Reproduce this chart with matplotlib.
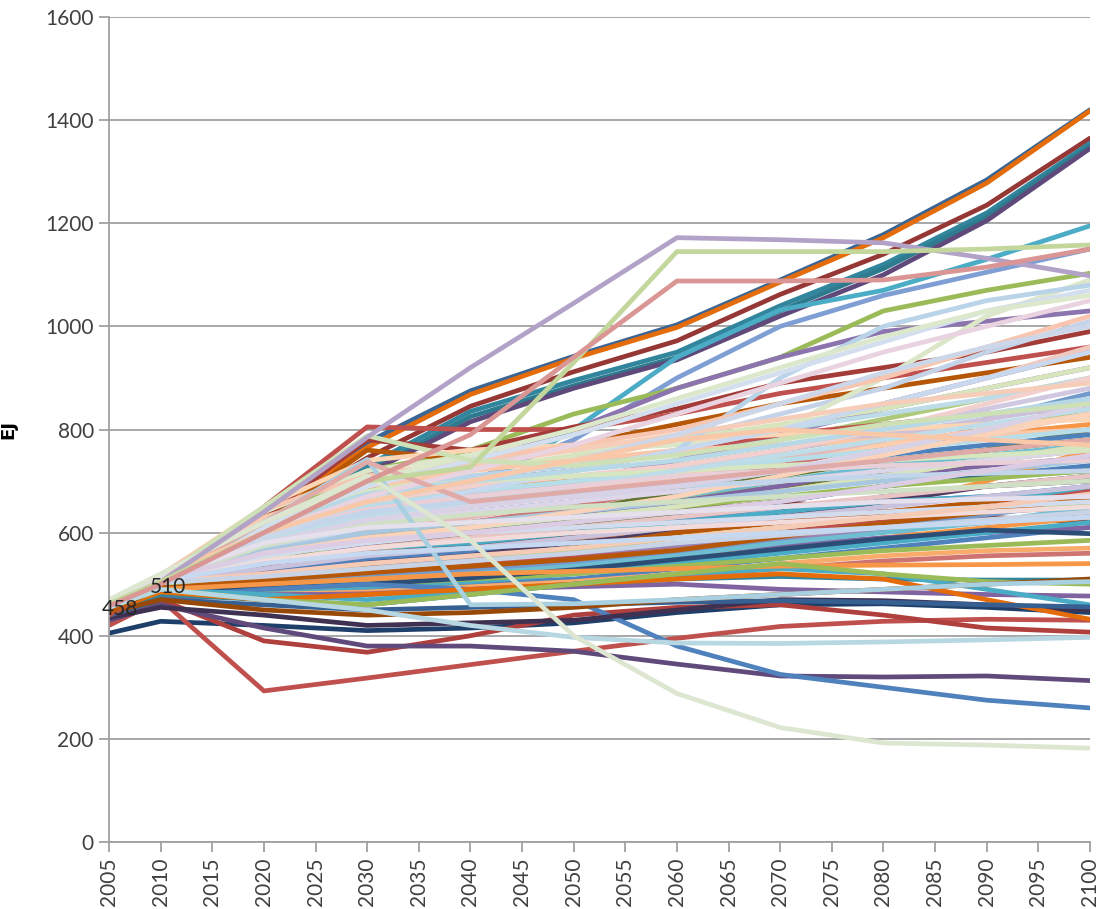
import numpy as np
import matplotlib.pyplot as plt

# categories on the x axis (Excel style category axis)
categories = [str(y) for y in range(2005, 2101, 5)]
# years that actually carry data in every run
years = [2005, 2010, 2020, 2030, 2040, 2050, 2060, 2070, 2080, 2090, 2100]

# runs that climb highest
high_runs = [
    [468, 510, 640, 775, 875, 942, 1003, 1090, 1178, 1284, 1420],
    [466, 508, 635, 765, 868, 938, 998, 1086, 1172, 1278, 1418],
    [462, 505, 625, 745, 845, 912, 972, 1062, 1140, 1235, 1365],
    [460, 503, 615, 730, 835, 895, 950, 1040, 1120, 1220, 1355],
    [458, 500, 610, 720, 825, 885, 940, 1030, 1112, 1212, 1350],
    [455, 498, 605, 715, 815, 880, 935, 1020, 1100, 1205, 1345],
    [458, 500, 560, 620, 680, 800, 940, 1032, 1070, 1130, 1195],
    [456, 500, 570, 640, 700, 780, 900, 1000, 1060, 1105, 1150],
    [456, 503, 620, 720, 760, 830, 880, 940, 1030, 1070, 1103],
    [455, 500, 590, 680, 740, 800, 880, 940, 990, 1010, 1030],
    [440, 500, 650, 805, 800, 800, 830, 870, 900, 930, 960],
    [450, 500, 630, 780, 760, 805, 840, 890, 920, 950, 990],
    [445, 495, 620, 760, 740, 770, 810, 850, 880, 910, 940],
]
high_colors = ['#3B6593', '#E46C0A', '#953735', '#31859C', '#2E7A8E', '#5F497A',
               '#4BACC6', '#7F9FD4', '#9BBB59', '#8C75AE', '#C0504D', '#A33B38',
               '#B65708']

# runs that stay low or fall
low_runs = [
    [405, 428, 420, 410, 415, 425, 445, 460, 462, 455, 445],
    [420, 470, 293, 318, 344, 370, 395, 418, 428, 432, 430],
    [430, 470, 390, 368, 400, 440, 455, 460, 440, 415, 407],
    [430, 460, 415, 380, 380, 370, 345, 322, 320, 322, 313],
    [440, 475, 490, 500, 490, 470, 380, 325, 300, 275, 260],
    [435, 455, 440, 420, 425, 430, 450, 470, 468, 460, 450],
    [440, 470, 480, 480, 490, 495, 500, 490, 485, 480, 477],
    [445, 480, 470, 460, 480, 500, 510, 515, 510, 508, 508],
    [450, 490, 480, 470, 485, 500, 520, 530, 520, 490, 460],
    [448, 485, 470, 480, 490, 500, 510, 520, 510, 470, 432],
    [455, 490, 500, 510, 520, 525, 530, 535, 537, 538, 540],
    [452, 490, 470, 460, 480, 500, 520, 540, 520, 505, 500],
    [440, 470, 460, 450, 455, 460, 465, 468, 465, 460, 456],
    [445, 470, 450, 440, 445, 455, 470, 480, 490, 500, 510],
]
low_colors = ['#1F3F6B', '#C0504D', '#B0403D', '#604A7B', '#4F81BD', '#3F3151',
              '#8064A2', '#31859C', '#4BACC6', '#E46C0A', '#F79646', '#9BBB59',
              '#376092', '#984807']

# lower part of the main band
lower_mid_runs = [
    [445, 485, 480, 490, 500, 510, 530, 550, 570, 590, 610],
    [448, 490, 495, 505, 515, 530, 550, 570, 590, 610, 630],
    [450, 492, 500, 520, 530, 545, 560, 575, 590, 600, 610],
    [446, 488, 485, 495, 505, 520, 540, 560, 580, 600, 620],
    [452, 495, 510, 525, 540, 555, 575, 600, 625, 650, 680],
    [449, 490, 490, 500, 510, 520, 535, 550, 565, 575, 585],
    [451, 493, 505, 515, 525, 540, 560, 585, 610, 635, 660],
    [447, 487, 480, 485, 495, 505, 520, 540, 555, 565, 570],
    [453, 497, 520, 540, 550, 560, 575, 590, 605, 620, 640],
    [450, 491, 498, 510, 520, 535, 555, 580, 600, 620, 650],
    [444, 484, 478, 482, 490, 500, 515, 530, 545, 555, 560],
    [452, 494, 515, 530, 545, 565, 590, 610, 630, 645, 655],
    [448, 489, 492, 500, 512, 528, 548, 568, 588, 605, 598],
    [451, 492, 508, 522, 535, 548, 566, 592, 618, 640, 668],
]
lower_mid_colors = ['#4F81BD', '#F79646', '#8064A2', '#4BACC6', '#C0504D', '#9BBB59',
                    '#729ACA', '#F9AB6B', '#9983B5', '#6FBDD1', '#CD7371', '#AFC97A',
                    '#2C4D75', '#B65708']

# middle band, strong colours
mid_runs = [
    [450, 490, 530, 560, 580, 600, 630, 660, 690, 710, 730],
    [452, 495, 540, 575, 590, 615, 640, 680, 720, 760, 800],
    [455, 500, 560, 600, 620, 640, 665, 690, 720, 740, 760],
    [450, 495, 545, 580, 600, 630, 660, 690, 710, 730, 745],
    [448, 490, 520, 540, 570, 600, 640, 680, 710, 740, 770],
    [454, 498, 535, 560, 570, 585, 600, 620, 650, 700, 760],
    [446, 488, 515, 530, 545, 570, 610, 640, 670, 690, 710],
    [450, 490, 520, 540, 560, 600, 640, 660, 640, 630, 620],
    [452, 494, 540, 570, 590, 610, 640, 680, 720, 760, 800],
    [449, 492, 525, 548, 560, 580, 600, 630, 660, 690, 700],
    [451, 496, 540, 565, 575, 600, 630, 660, 690, 710, 720],
    [447, 490, 515, 535, 550, 570, 600, 620, 640, 660, 680],
    [455, 500, 560, 610, 640, 660, 700, 740, 780, 820, 870],
    [453, 498, 555, 600, 620, 650, 690, 730, 770, 800, 830],
    [456, 502, 580, 640, 680, 700, 740, 780, 820, 860, 900],
    [454, 500, 570, 630, 670, 700, 740, 790, 840, 880, 920],
    [452, 497, 550, 590, 610, 640, 670, 700, 730, 750, 770],
    [450, 495, 530, 565, 590, 620, 650, 680, 710, 740, 770],
    [451, 493, 525, 550, 565, 590, 625, 650, 660, 670, 690],
    [456, 500, 590, 660, 690, 720, 760, 790, 810, 830, 840],
    [452, 495, 545, 585, 600, 620, 650, 670, 690, 705, 720],
    [455, 500, 600, 680, 700, 720, 760, 800, 850, 900, 950],
    [450, 494, 535, 570, 580, 600, 620, 640, 660, 670, 680],
    [458, 505, 620, 735, 690, 700, 720, 750, 770, 790, 810],
    [456, 503, 600, 700, 680, 700, 730, 760, 790, 810, 830],
    [453, 496, 560, 620, 640, 660, 690, 720, 750, 770, 790],
    [449, 492, 530, 560, 570, 590, 610, 620, 630, 640, 650],
    [451, 494, 545, 590, 610, 640, 680, 710, 740, 760, 780],
]
mid_colors = ['#4F81BD', '#C0504D', '#9BBB59', '#8064A2', '#4BACC6', '#F79646',
              '#2C4D75', '#772C2A', '#5F7530', '#4D3B62', '#276A7C', '#B65708',
              '#729ACA', '#CD7371', '#AFC97A', '#9983B5', '#6FBDD1', '#F9AB6B',
              '#4F81BD', '#C0504D', '#9BBB59', '#8064A2', '#4BACC6', '#F79646',
              '#9BBB59', '#4F81BD', '#C0504D', '#5F7530']

# pale runs drawn on top
pale_runs = [
    [462, 512, 600, 660, 700, 740, 780, 830, 880, 950, 1010],
    [460, 510, 590, 650, 690, 720, 760, 800, 850, 900, 960],
    [465, 515, 610, 680, 720, 750, 780, 810, 840, 880, 920],
    [458, 508, 580, 630, 660, 690, 720, 760, 800, 840, 880],
    [463, 514, 620, 700, 740, 760, 780, 800, 830, 860, 900],
    [460, 510, 575, 620, 650, 680, 710, 740, 770, 800, 830],
    [466, 518, 640, 720, 750, 760, 770, 800, 900, 1020, 1090],
    [462, 512, 600, 670, 710, 730, 760, 900, 1000, 1050, 1080],
    [458, 506, 560, 600, 630, 660, 700, 740, 780, 820, 860],
    [461, 511, 590, 640, 670, 700, 730, 760, 790, 820, 850],
    [464, 516, 630, 690, 720, 740, 760, 770, 780, 790, 800],
    [459, 508, 570, 610, 640, 660, 690, 720, 750, 790, 830],
    [463, 513, 610, 660, 690, 710, 730, 760, 800, 850, 900],
    [457, 505, 550, 590, 610, 630, 650, 680, 710, 740, 770],
    [462, 512, 600, 650, 680, 700, 720, 740, 760, 780, 800],
    [460, 509, 580, 620, 640, 660, 680, 700, 720, 740, 760],
    [465, 517, 650, 740, 760, 770, 780, 790, 800, 810, 820],
    [459, 507, 565, 600, 620, 640, 660, 680, 700, 720, 740],
    [456, 504, 540, 570, 590, 610, 630, 650, 670, 690, 710],
    [461, 510, 590, 640, 680, 720, 760, 800, 850, 900, 950],
    [463, 513, 620, 680, 700, 710, 720, 730, 740, 750, 760],
    [458, 506, 560, 590, 610, 640, 670, 710, 750, 790, 830],
    [455, 503, 530, 555, 570, 590, 610, 630, 650, 670, 690],
    [460, 510, 585, 630, 660, 690, 720, 750, 780, 810, 840],
    [464, 515, 625, 690, 730, 760, 790, 820, 850, 870, 890],
    [457, 505, 555, 580, 600, 610, 620, 630, 640, 650, 660],
    [462, 511, 600, 645, 670, 690, 710, 720, 730, 735, 740],
    [459, 508, 575, 615, 635, 650, 660, 670, 680, 690, 700],
    [466, 518, 645, 710, 740, 770, 800, 850, 900, 960, 1020],
    [461, 511, 595, 640, 660, 675, 690, 700, 710, 715, 720],
    [458, 507, 560, 585, 600, 620, 640, 660, 690, 720, 750],
    [463, 514, 615, 675, 700, 720, 740, 770, 800, 830, 860],
    [456, 504, 545, 570, 585, 600, 610, 620, 630, 640, 650],
    [460, 509, 580, 625, 650, 670, 690, 720, 760, 800, 850],
    [463, 514, 610, 690, 740, 790, 850, 910, 970, 1030, 1070],
    [461, 512, 600, 670, 720, 770, 830, 890, 950, 1000, 1050],
    [464, 516, 620, 700, 750, 800, 860, 920, 980, 1030, 1060],
    [460, 510, 590, 660, 700, 740, 790, 850, 910, 960, 1000],
    [457, 505, 520, 540, 555, 570, 590, 610, 630, 650, 675],
    [455, 503, 515, 530, 545, 560, 580, 595, 610, 625, 640],
    [455, 505, 620, 742, 460, 462, 470, 480, 490, 500, 505],
    [455, 490, 470, 450, 420, 397, 386, 385, 388, 392, 397],
    [462, 512, 650, 788, 740, 730, 750, 780, 810, 830, 850],
    [458, 508, 620, 737, 660, 680, 700, 720, 740, 760, 780],
    [464, 516, 600, 660, 700, 740, 780, 800, 790, 780, 770],
    [457, 506, 540, 560, 570, 580, 590, 600, 610, 620, 630],
    [461, 512, 580, 610, 620, 630, 640, 650, 660, 665, 670],
    [470, 520, 620, 710, 585, 400, 288, 222, 192, 188, 182],
    [460, 505, 640, 785, 920, 1045, 1172, 1168, 1162, 1132, 1098],
    [462, 505, 600, 700, 727, 930, 1145, 1145, 1145, 1150, 1158],
    [458, 500, 600, 700, 790, 940, 1088, 1088, 1090, 1115, 1150],
]
pale_colors = ['#C5D3E8', '#F0C8C0', '#D8E4BC', '#D0C8E0', '#BEDCE8', '#FBCFB0',
               '#DCE6C8', '#B9D4E8', '#E6B9B8', '#CCC1DA', '#FAC8A8', '#C6D9F1',
               '#F2D0CE', '#D7E4BD', '#B7DEE8', '#DDD5E8', '#FCD5B5', '#A9C8E0',
               '#E8C4C4', '#C8D8EE', '#D5E6C0', '#FBD3BA', '#C9C2DD', '#BFDDE8',
               '#F5CDB8', '#D2DCEC', '#E8CFD8', '#CFE0C4', '#F8C6B0', '#C3D5EA',
               '#DCCDE4', '#B7D8E6', '#F2DCDB', '#D9D2E6', '#D3DEEE', '#E9D3E0',
               '#DCE8CC', '#CCD7EA', '#F6CBB6', '#C8D3E6',
               '#A9D0E0', '#B7D7E3', '#CDE0B6', '#DFAAA8', '#F9C8A8', '#C6D9F1',
               '#E5E0EC', '#DCE6D0', '#B3A2C7', '#C3D69B', '#D99694']

xpos = [(y - 2005) / 5 for y in years]

fig, ax = plt.subplots(figsize=(11.06, 9.09), dpi=100)
fig.subplots_adjust(left=0.0986, right=0.9855, top=0.9813, bottom=0.0737)

lw = 3.4
for runs, cols in [(mid_runs, mid_colors), (lower_mid_runs, lower_mid_colors),
                   (low_runs, low_colors), (high_runs, high_colors),
                   (pale_runs, pale_colors)]:
    for vals, c in zip(runs, cols):
        ax.plot(xpos, vals, color=c, lw=lw, solid_capstyle='round',
                solid_joinstyle='round')

# data labels on the historical points
ax.annotate('458', (0, 458), xytext=(8, -2), textcoords='offset points',
            ha='center', va='center', fontsize=15, color='#262626', family='Lato')
ax.annotate('510', (1, 510), xytext=(5, -6), textcoords='offset points',
            ha='center', va='center', fontsize=15, color='#262626', family='Lato')

ax.set_xlim(0, len(categories) - 1)
ax.set_ylim(0, 1600)
ax.set_xticks(range(len(categories)))
ax.set_xticklabels(categories, rotation=90, fontsize=15, family='Lato', color='#404040')
ax.set_yticks(range(0, 1601, 200))
ax.set_yticklabels([str(v) for v in range(0, 1601, 200)], fontsize=15,
                   family='Lato', color='#404040')
ax.set_ylabel('EJ', fontsize=13, fontweight='heavy', family='DejaVu Sans',
              labelpad=20)

ax.grid(True, axis='y', color='#A0A0A0', lw=1.3)
ax.set_axisbelow(True)
for s in ['top', 'right']:
    ax.spines[s].set_visible(False)
for s in ['left', 'bottom']:
    ax.spines[s].set_color('#A0A0A0')
    ax.spines[s].set_linewidth(1.3)
ax.tick_params(axis='both', length=7, width=1.3, color='#A0A0A0', pad=4)

plt.savefig('out.png', dpi=100)
